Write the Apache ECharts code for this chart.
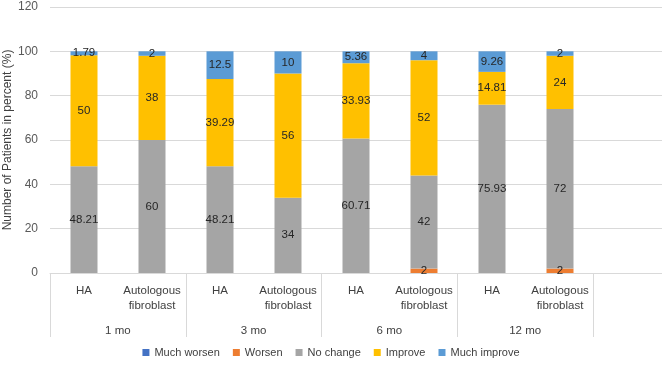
<!DOCTYPE html>
<html>
<head>
<meta charset="utf-8">
<script src="https://cdn.jsdelivr.net/npm/echarts@6/dist/echarts.min.js"></script>
<style>
  html, body { margin: 0; padding: 0; background: #fff; }
  #chart { width: 662px; height: 366px; }
</style>
</head>
<body>
<div id="chart"></div>
<script>
// categories (last slot is left empty, as in the original)
var categories = ['HA', 'Autologous\nfibroblast', 'HA', 'Autologous\nfibroblast',
  'HA', 'Autologous\nfibroblast', 'HA', 'Autologous\nfibroblast', ''];
var groups = ['1 mo', '3 mo', '6 mo', '12 mo'];
var seriesNames = ['Much worsen', 'Worsen', 'No change', 'Improve', 'Much improve'];
var colors = ['#4472c4', '#ed7d31', '#a5a5a5', '#ffc000', '#5b9bd5'];

var muchWorsen  = [0, 0, 0, 0, 0, 0, 0, 0];
var worsen      = [0, 0, 0, 0, 0, 2, 0, 2];
var noChange    = [48.21, 60, 48.21, 34, 60.71, 42, 75.93, 72];
var improve     = [50, 38, 39.29, 56, 33.93, 52, 14.81, 24];
var muchImprove = [1.79, 2, 12.5, 10, 5.36, 4, 9.26, 2];

var yTicks = { min: 0, max: 120, interval: 20 };

var font = 'Liberation Sans, Arial, sans-serif';
var values = [muchWorsen, worsen, noChange, improve, muchImprove];

var myChart = echarts.init(document.getElementById('chart'));

var series = [];
for (var i = 0; i < seriesNames.length; i++) {
  series.push({
    name: seriesNames[i],
    type: 'bar',
    stack: 'total',
    xAxisIndex: 0,
    yAxisIndex: 0,
    barWidth: 27,
    itemStyle: { color: colors[i] },
    label: {
      show: true,
      position: 'inside',
      color: '#262626',
      fontFamily: font,
      fontSize: 11.5,
      formatter: function (p) { return p.value ? String(p.value) : ''; }
    },
    data: values[i]
  });
}

var option = {
  animation: false,
  textStyle: { fontFamily: font },
  grid: [
    { left: 50, right: 0, top: 7, bottom: 93, outerBoundsMode: 'none' },
    { left: 50, right: 69, top: 7, bottom: 93, outerBoundsMode: 'none' }
  ],
  legend: {
    data: seriesNames,
    top: 342,
    left: 'center',
    icon: 'rect',
    itemWidth: 7,
    itemHeight: 7,
    itemGap: 13,
    textStyle: { color: '#404040', fontSize: 11, fontFamily: font }
  },
  xAxis: [
    {
      type: 'category',
      gridIndex: 0,
      data: categories,
      axisLine: { show: true, lineStyle: { color: '#d9d9d9' } },
      axisTick: { show: false },
      axisLabel: {
        interval: 0,
        margin: 10,
        color: '#404040',
        fontSize: 11.5,
        lineHeight: 15,
        fontFamily: font
      }
    },
    {
      type: 'category',
      gridIndex: 1,
      data: groups,
      axisLine: { show: false },
      axisTick: { show: true, length: 64, lineStyle: { color: '#d9d9d9' } },
      axisLabel: {
        interval: 0,
        margin: 52,
        color: '#404040',
        fontSize: 11.5,
        fontFamily: font
      }
    }
  ],
  yAxis: [
    {
      type: 'value',
      gridIndex: 0,
      min: yTicks.min,
      max: yTicks.max,
      interval: yTicks.interval,
      name: 'Number of Patients in percent (%)',
      nameLocation: 'middle',
      nameGap: 36,
      nameMoveOverlap: false,
      nameTextStyle: { color: '#404040', fontSize: 12, fontFamily: font },
      axisLine: { show: false },
      axisTick: { show: false },
      axisLabel: { margin: 12, color: '#595959', fontSize: 12, fontFamily: font },
      splitLine: { lineStyle: { color: '#d9d9d9' } }
    },
    {
      type: 'value',
      gridIndex: 1,
      show: false,
      splitLine: { show: false }
    }
  ],
  series: series
};
myChart.setOption(option);
</script>
</body>
</html>
